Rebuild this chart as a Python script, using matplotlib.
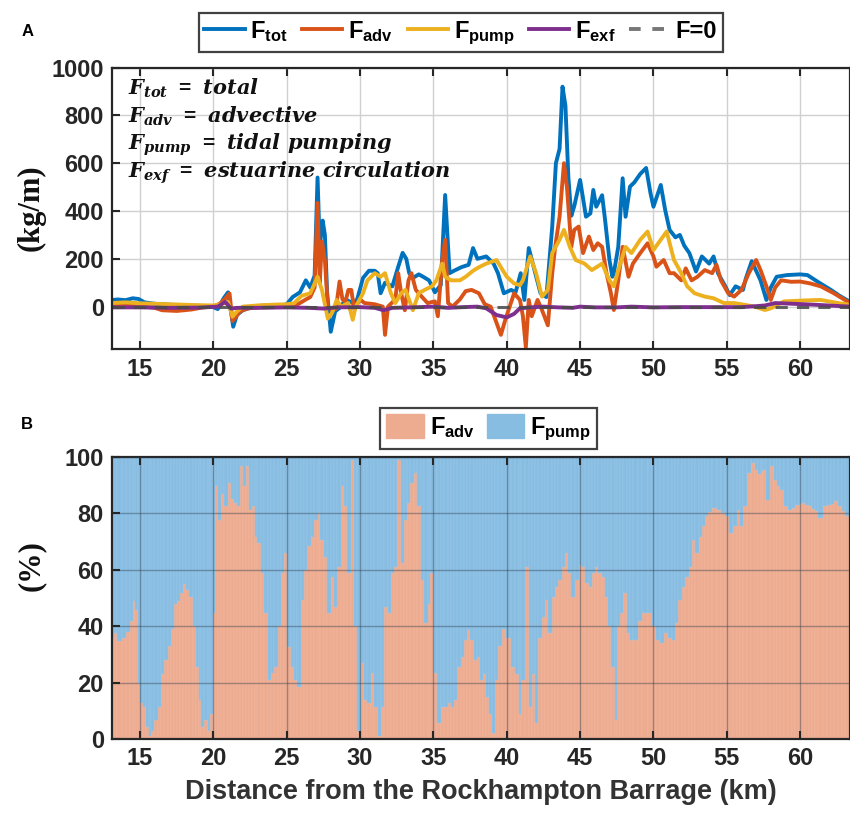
import numpy as np
import matplotlib
matplotlib.use('Agg')
import matplotlib.pyplot as plt
from matplotlib.lines import Line2D
from matplotlib.patches import Patch

plt.rcParams['font.family'] = ['Liberation Sans', 'DejaVu Sans']
plt.rcParams['mathtext.fontset'] = 'custom'
plt.rcParams['mathtext.rm'] = 'Liberation Sans:bold'
plt.rcParams['mathtext.it'] = 'DejaVu Serif:italic:bold'
plt.rcParams['mathtext.bf'] = 'DejaVu Serif:italic:bold'

# ---- panel A : salt flux components (kg/m) along the estuary ----
tot_km = [13.1, 13.5, 14.0, 14.5, 14.9, 15.3, 16.0, 17.0, 18.0, 19.0, 19.8, 20.3, 20.7, 21.0, 21.35,
          21.6, 22.0, 22.5, 23.0, 23.5, 24.0, 24.5, 25.0, 25.4, 25.9, 26.3, 26.6, 26.9, 27.1, 27.25,
          27.45, 27.6, 27.75, 28.0, 28.3, 28.7, 29.0, 29.5, 29.8, 30.2, 30.6, 31.0, 31.2, 31.4, 31.7,
          32.2, 32.6, 32.9, 33.15, 33.35, 33.6, 34.0, 34.3, 34.7, 35.1, 35.5, 35.8, 36.1, 36.4, 36.9,
          37.4, 37.7, 38.0, 38.6, 39.1, 39.4, 39.8, 40.3, 40.6, 40.95, 41.2, 41.5, 41.9, 42.3, 42.7,
          43.1, 43.35, 43.6, 43.8, 44.0, 44.2, 44.4, 44.6, 45.0, 45.4, 45.7, 45.9, 46.1, 46.5, 46.7,
          47.0, 47.2, 47.3, 47.6, 47.9, 48.1, 48.4, 48.7, 49.1, 49.5, 49.8, 50.0, 50.5, 50.8, 51.1,
          51.5, 51.8, 52.1, 52.45, 52.9, 53.3, 53.8, 54.1, 54.4, 54.9, 55.2, 55.6, 56.1, 56.3, 56.7,
          57.3, 57.7, 58.0, 58.4, 59.1, 60.0, 60.5, 61.2, 62.1, 62.7, 63.4]
tot_flux = [28, 30, 27, 35, 32, 18, 12, 8, 6, 4, 2, -10, 35, 60, -84,
            -35, -15, -5, 2, 5, 5, 3, 10, 40, 60, 110, 80, 130, 540, 250,
            360, 300, 60, -105, -20, 0, 30, 15, 30, 120, 150, 150, 140, 56, 100,
            85, 167, 225, 200, 140, 120, 135, 125, 110, 60, 90, 467, 140, 150, 165,
            175, 245, 200, 210, 180, 140, 56, 70, 60, 140, 28, 245, 150, 56, 40,
            335, 600, 660, 920, 840, 540, 380, 420, 530, 376, 390, 488, 418, 466, 364,
            195, 125, 140, 250, 537, 376, 502, 520, 555, 580, 474, 418, 509, 404, 321,
            290, 300, 255, 224, 147, 210, 180, 210, 140, 85, 48, 85, 70, 118, 190,
            110, 28, 80, 125, 132, 135, 132, 104, 70, 45, 20]

adv_km = [13.1, 14.0, 15.0, 16.0, 16.5, 17.5, 18.5, 19.3, 20.0, 20.5, 20.9, 21.1, 21.3, 21.5, 21.8,
          22.3, 23.0, 24.0, 24.8, 25.5, 25.9, 26.3, 26.6, 26.9, 27.1, 27.25, 27.4, 27.6, 27.8, 28.1,
          28.35, 28.6, 28.8, 29.0, 29.2, 29.4, 29.6, 30.0, 30.3, 31.0, 31.55, 31.7, 31.9, 32.4, 32.6,
          32.8, 33.05, 33.3, 33.5, 33.8, 34.0, 34.2, 34.6, 35.1, 35.3, 35.6, 35.8, 36.0, 36.3, 36.8,
          37.2, 37.6, 38.1, 38.5, 38.9, 39.2, 39.6, 39.9, 40.5, 40.9, 41.1, 41.3, 41.5, 41.7, 42.1,
          42.4, 42.8, 43.1, 43.3, 43.6, 43.9, 44.1, 44.4, 44.6, 44.9, 45.2, 45.6, 45.9, 46.2, 46.5,
          46.8, 47.1, 47.3, 47.6, 47.9, 48.3, 48.6, 49.1, 49.6, 50.0, 50.2, 50.7, 51.1, 51.4, 51.9,
          52.2, 52.6, 53.0, 53.5, 54.0, 54.3, 54.6, 55.1, 55.5, 56.0, 56.5, 57.0, 57.3, 57.7, 58.0,
          58.3, 58.7, 59.4, 60.0, 60.7, 61.4, 62.3, 63.4]
adv_flux = [8, 6, 3, -5, -15, -18, -12, -3, 0, 15, 40, 55, -60, -45, -20,
            -8, -3, -2, 0, 2, 15, 30, 40, 80, 434, 100, 272, 195, 0, -15,
            -10, 105, 30, 20, 70, 70, -10, 30, 15, 10, 0, -118, 0, 30, 140,
            56, -15, 110, 140, 70, 56, 42, 15, 22, -40, 195, 280, 15, 0, 30,
            65, 70, 56, 10, 0, -50, -118, -55, 56, 28, -40, -170, 28, -40, 28,
            -14, -78, 140, 250, 376, 600, 502, 250, 321, 335, 224, 293, 237, 265, 250,
            140, 56, -14, 110, 250, 125, 180, 224, 265, 210, 167, 195, 140, 140, 110,
            160, 110, 125, 153, 140, 175, 110, 56, 42, 70, 140, 195, 153, 85, 28,
            80, 110, 104, 105, 97, 85, 56, 15]

pump_km = [13.1, 14.0, 15.0, 16.0, 17.0, 18.0, 19.0, 20.0, 20.5, 21.0, 21.3, 21.6, 22.0, 23.0, 24.0,
           25.0, 25.5, 26.0, 26.6, 27.0, 27.1, 27.4, 27.6, 27.8, 28.1, 28.4, 28.7, 29.2, 29.5, 29.7,
           30.2, 30.5, 31.0, 31.4, 31.7, 32.1, 32.4, 32.8, 33.1, 33.6, 34.0, 34.4, 34.9, 35.2, 35.6,
           35.8, 36.2, 36.8, 37.2, 37.7, 38.1, 38.6, 39.3, 40.0, 40.5, 40.9, 41.1, 41.6, 42.0, 42.4,
           42.8, 43.1, 43.6, 43.9, 44.3, 44.7, 45.3, 45.8, 46.5, 47.0, 47.3, 47.6, 48.1, 48.5, 49.1,
           49.6, 50.0, 50.5, 50.9, 51.4, 51.9, 52.3, 52.8, 53.5, 54.1, 54.8, 55.5, 56.2, 56.9, 57.6,
           58.0, 58.9, 60.3, 61.4, 62.6, 63.4]
pump_flux = [15, 18, 14, 12, 10, 8, 6, 5, 10, 20, -42, -20, 0, 5, 8,
             10, 14, 45, 56, 110, 125, 70, 10, -50, -25, 28, 0, 15, -55, 0,
             56, 110, 140, 125, 140, 56, 15, 56, 70, -15, 56, 70, 85, 110, 180,
             125, 110, 110, 125, 150, 165, 180, 195, 125, 97, 90, 110, 210, 140, 42,
             70, 224, 280, 321, 250, 195, 180, 153, 180, 110, 85, 153, 250, 224, 280,
             314, 237, 280, 314, 195, 140, 85, 56, 42, 35, 15, 15, 8, 0, -14,
             -7, 22, 26, 28, 15, 8]

exf_km = [13.1, 15.0, 17.0, 19.0, 20.3, 20.8, 21.2, 21.6, 23.0, 25.0, 26.5, 27.5, 28.5, 30.0, 31.0,
          31.6, 32.2, 33.5, 35.0, 36.0, 37.0, 38.0, 38.6, 39.3, 40.0, 40.5, 40.9, 41.6, 42.5, 43.5,
          44.5, 45.0, 46.0, 47.5, 48.5, 50.0, 52.0, 54.0, 56.0, 57.0, 57.6, 58.3, 59.5, 61.0, 62.5, 63.4]
exf_flux = [-3, -3, -5, -4, 0, 20, -8, -5, -5, -3, -5, -8, -3, -2, -5,
            -15, -5, -3, 0, -5, -2, 0, -7, -35, -45, -30, -7, -3, 0, -3,
            -5, 0, -3, -3, 0, -3, -2, -2, -2, 2, 5, 15, 12, 8, 3, 0]

# ---- panel B : share of advective vs tidal pumping flux (%) ----
pct_km = [13.1, 13.3, 13.6, 13.9, 14.2, 14.4, 14.6, 14.75, 14.9, 15.05, 15.3, 15.5, 15.7, 15.8, 16.1,
          16.3, 16.5, 16.75, 17.0, 17.2, 17.4, 17.6, 17.8, 18.0, 18.2, 18.45, 18.7, 18.9, 19.1, 19.25,
          19.5, 19.7, 19.9, 20.05, 20.2, 20.4, 20.6, 20.85, 21.1, 21.3, 21.5, 21.75, 21.9, 22.1, 22.3,
          22.5, 22.75, 22.9, 23.1, 23.35, 23.6, 23.8, 24.0, 24.25, 24.5, 24.7, 24.9, 25.15, 25.4, 25.6,
          25.85, 26.1, 26.3, 26.5, 26.75, 27.0, 27.2, 27.4, 27.65, 27.9, 28.1, 28.3, 28.55, 28.8, 29.0,
          29.25, 29.5, 29.7, 29.9, 30.2, 30.4, 30.6, 30.85, 31.1, 31.3, 31.5, 31.75, 32.0, 32.2, 32.4,
          32.65, 32.9, 33.1, 33.3, 33.55, 33.8, 34.0, 34.25, 34.5, 34.7, 34.9, 35.15, 35.4, 35.6, 35.85,
          36.1, 36.3, 36.5, 36.75, 37.0, 37.2, 37.4, 37.65, 37.9, 38.1, 38.3, 38.5, 38.7, 38.9, 39.1,
          39.3, 39.5, 39.8, 40.1, 40.45, 40.7, 40.9, 41.1, 41.4, 41.6, 41.8, 42.0, 42.3, 42.5, 42.7,
          42.95, 43.2, 43.4, 43.6, 43.9, 44.1, 44.3, 44.5, 44.8, 45.0, 45.2, 45.45, 45.7, 45.9, 46.1,
          46.4, 46.6, 46.8, 47.0, 47.25, 47.45, 47.6, 47.8, 48.05, 48.3, 48.5, 48.75, 49.1, 49.4, 49.8,
          50.0, 50.3, 50.6, 50.9, 51.15, 51.4, 51.6, 51.8, 52.05, 52.3, 52.5, 52.7, 52.95, 53.2, 53.4,
          53.6, 53.85, 54.1, 54.5, 54.75, 55.0, 55.3, 55.6, 55.8, 56.0, 56.25, 56.5, 56.8, 57.0, 57.2,
          57.4, 57.6, 57.8, 58.1, 58.3, 58.5, 58.75, 59.0, 59.3, 59.55, 59.8, 60.0, 60.2, 60.45, 60.7,
          60.9, 61.1, 61.4, 61.7, 62.0, 62.2, 62.4, 62.7, 62.95, 63.2, 63.4]
adv_pct = [36, 37.5, 34.6, 36, 38, 42, 48.8, 45.8, 20, 12.7, 11.5, 4.4, 1, 3, 6.7,
           11.5, 23, 28, 33, 39, 48, 49, 51.7, 55, 53, 50.5, 40, 25.7, 14, 4.4,
           6.7, 3, 9, 44.6, 89.6, 77.8, 87, 82.5, 90.8, 85, 83.7, 82.5, 96.7, 89.6, 96.7,
           81.3, 82.5, 71.8, 69.5, 58.8, 44.6, 21, 23.3, 25.7, 40, 58.8, 66, 32.8, 25.7, 21,
           18.6, 49.3, 60, 68.3, 71.8, 77.8, 80, 70.6, 64.7, 44.6, 57.6, 47, 61, 89.6, 82.5,
           58.8, 99, 40, 3, 27, 14, 12.7, 23.3, 11.5, 1, 11.5, 47, 44.6, 58.8, 61,
           99, 62.4, 77.8, 83.7, 90.8, 94.3, 82.5, 56.4, 41, 48, 58.8, 23.3, 5.6, 11.5, 11.5,
           12.7, 11.5, 14, 25.7, 29, 35, 38.7, 35, 28, 29, 21, 23, 15, 9, 2,
           21, 33, 39, 36, 25.7, 23, 9, 21, 61, 11.5, 23, 5.6, 36, 43.4, 49.3,
           37.5, 50.5, 54, 56.4, 61, 66, 58.8, 50.5, 56.4, 61.8, 61, 55.3, 54, 58.8, 61,
           58.8, 57.6, 50.5, 40, 25.7, 6.7, 40, 44.6, 51.7, 37.5, 35, 35, 42, 44.6, 44.6,
           40, 35, 34, 37.5, 36, 35, 41, 49.3, 54, 57.6, 61, 70.6, 66, 71.8, 75.4,
           79, 80.5, 82, 81.3, 80, 79, 73, 75.4, 81.3, 75.4, 82.5, 94.3, 97.9, 95.5, 94,
           95, 95.5, 84.8, 96.7, 92, 89.6, 88.4, 82.5, 81.3, 82, 83, 83.5, 83.7, 83, 82.5,
           81.5, 80.7, 78.3, 82.5, 83, 83.5, 84.3, 82.5, 81, 79, 79]

xticks = [15, 20, 25, 30, 35, 40, 45, 50, 55, 60]

c_tot, c_adv, c_pump, c_exf = '#0072BD', '#D95319', '#EDB120', '#7E2F8E'
c_zero = '#4a4a4a'
c_bar_adv, c_bar_pump = '#EDAB8F', '#88BDE2'
txt_col = '#262626'

fig = plt.figure(figsize=(8.5, 8.14), dpi=100)
ax1 = fig.add_axes([0.132, 0.571, 0.868, 0.346])
ax2 = fig.add_axes([0.132, 0.092, 0.868, 0.3466])

xlim = (13.1, 63.4)

# top panel lines, drawn in legend order
ax1.plot(tot_km, tot_flux, color=c_tot, lw=2.8)
ax1.plot(adv_km, adv_flux, color=c_adv, lw=2.8)
ax1.plot(pump_km, pump_flux, color=c_pump, lw=2.8)
ax1.plot(exf_km, exf_flux, color=c_exf, lw=2.8)
ax1.axhline(0, color=c_zero, lw=2.2, ls=(0, (4, 3)), alpha=0.85)
ax1.set_xlim(*xlim)
ax1.set_ylim(-178, 1000)
ax1.set_yticks([0, 200, 400, 600, 800, 1000])
ax1.set_xticks(xticks)
ax1.grid(True, color='#d0d0d0', lw=1.0)
ax1.set_axisbelow(True)

ann = [r'$F_{tot}\ =\ total$', r'$F_{adv}\ =\ advective$',
       r'$F_{pump}\ =\ tidal\ pumping$', r'$F_{exf}\ =\ estuarine\ circulation$']
for i, s in enumerate(ann):
    ax1.text(0.022, 0.905 - i * 0.099, s, transform=ax1.transAxes, fontsize=15,
             color='#111111', va='baseline')

# bottom panel stacked bars
km = np.array(pct_km)
adv = np.array(adv_pct)
edges = np.concatenate([[xlim[0]], (km[1:] + km[:-1]) / 2, [xlim[1]]])
ax2.bar(edges[:-1], adv, width=np.diff(edges), align='edge', color=c_bar_adv,
        edgecolor='#f2bca4', lw=0.3)
ax2.bar(edges[:-1], 100 - adv, bottom=adv, width=np.diff(edges), align='edge',
        color=c_bar_pump, edgecolor='#9cc9e8', lw=0.3)
ax2.set_xlim(*xlim)
ax2.set_ylim(0, 100)
ax2.set_yticks([0, 20, 40, 60, 80, 100])
ax2.set_xticks(xticks)
ax2.grid(True, color='#2a3a4a', alpha=0.4, lw=1.0)
ax2.set_axisbelow(False)

for ax in (ax1, ax2):
    ax.tick_params(direction='in', top=True, right=False, length=6, width=1.5,
                   labelsize=17, colors=txt_col, pad=6)
    for lab in ax.get_xticklabels() + ax.get_yticklabels():
        lab.set_fontweight('bold')
    for sp in ax.spines.values():
        sp.set_linewidth(1.6)
        sp.set_color(txt_col)

ax2.set_xlabel('Distance from the Rockhampton Barrage (km)', fontsize=19.5,
               fontweight='bold', color='#333333', labelpad=6)
fig.text(0.037, 0.745, '(kg/m)', rotation=90, ha='center', va='center', fontsize=22,
         fontweight='bold', family='Liberation Serif', color='#111111')
fig.text(0.037, 0.305, '(%)', rotation=90, ha='center', va='center', fontsize=22,
         fontweight='bold', family='Liberation Serif', color='#111111')
fig.text(0.032, 0.961, 'A', fontsize=12, fontweight='bold', ha='center', va='center')
fig.text(0.032, 0.478, 'B', fontsize=12, fontweight='bold', ha='center', va='center')

h1 = [Line2D([], [], color=c_tot, lw=2.8), Line2D([], [], color=c_adv, lw=2.8),
      Line2D([], [], color=c_pump, lw=2.8), Line2D([], [], color=c_exf, lw=2.8),
      Line2D([], [], color='#777777', lw=2.8, ls=(0, (3, 3)))]
l1 = [r'$\mathrm{F_{tot}}$', r'$\mathrm{F_{adv}}$', r'$\mathrm{F_{pump}}$',
      r'$\mathrm{F_{exf}}$', 'F=0']
leg1 = fig.legend(h1, l1, loc='center', bbox_to_anchor=(0.542, 0.960), ncol=5,
                  prop={'size': 17, 'weight': 'bold'}, frameon=True, fancybox=False,
                  edgecolor='#111111', handlelength=1.7, handletextpad=0.25,
                  columnspacing=0.6, borderpad=0.25)
leg1.get_frame().set_linewidth(1.6)

h2 = [Patch(facecolor=c_bar_adv, edgecolor=c_bar_adv), Patch(facecolor=c_bar_pump, edgecolor=c_bar_pump)]
l2 = [r'$\mathrm{F_{adv}}$', r'$\mathrm{F_{pump}}$']
leg2 = fig.legend(h2, l2, loc='center', bbox_to_anchor=(0.575, 0.474), ncol=2,
                  prop={'size': 17, 'weight': 'bold'}, frameon=True, fancybox=False,
                  edgecolor='#111111', handlelength=1.6, handleheight=1.2,
                  handletextpad=0.25, columnspacing=0.5, borderpad=0.25)
leg2.get_frame().set_linewidth(1.6)

fig.savefig('out.png', dpi=100)
